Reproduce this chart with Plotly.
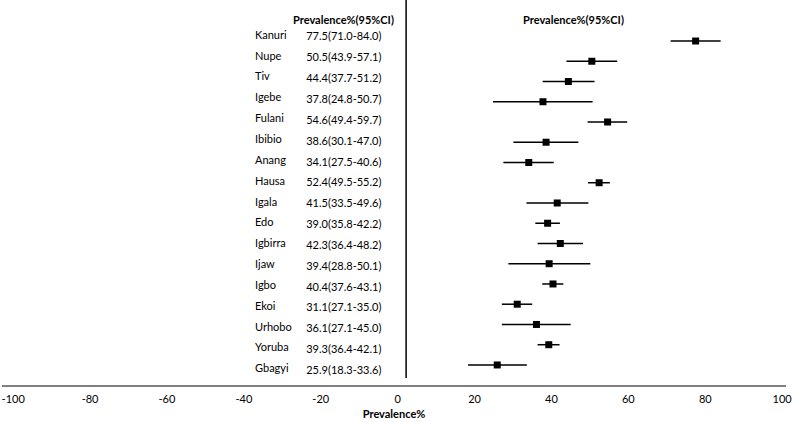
import plotly.graph_objects as go

groups = ["Kanuri", "Nupe", "Tiv", "Igebe", "Fulani", "Ibibio", "Anang", "Hausa", "Igala",
          "Edo", "Igbirra", "Ijaw", "Igbo", "Ekoi", "Urhobo", "Yoruba", "Gbagyi"]
prev = [77.5, 50.5, 44.4, 37.8, 54.6, 38.6, 34.1, 52.4, 41.5, 39.0, 42.3, 39.4, 40.4, 31.1, 36.1, 39.3, 25.9]
ci_low = [71.0, 43.9, 37.7, 24.8, 49.4, 30.1, 27.5, 49.5, 33.5, 35.8, 36.4, 28.8, 37.6, 27.1, 27.1, 36.4, 18.3]
ci_high = [84.0, 57.1, 51.2, 50.7, 59.7, 47.0, 40.6, 55.2, 49.6, 42.2, 48.2, 50.1, 43.1, 35.0, 45.0, 42.1, 33.6]
x_ticks = [-100, -80, -60, -40, -20, 0, 20, 40, 60, 80, 100]
x_tick_text = [str(v) for v in x_ticks]

labels = [f"{p:.1f}({l:.1f}-{h:.1f})" for p, l, h in zip(prev, ci_low, ci_high)]
rows = list(range(len(groups)))

FONT = "Lato"

fig = go.Figure()
fig.add_trace(go.Scatter(
    x=prev, y=rows, mode="markers",
    marker=dict(symbol="square", size=7, color="black"),
    error_x=dict(type="data", symmetric=False,
                 array=[h - p for p, h in zip(prev, ci_high)],
                 arrayminus=[p - l for p, l in zip(prev, ci_low)],
                 color="black", thickness=1.5, width=0),
    hoverinfo="skip", showlegend=False, cliponaxis=False))

# group names
fig.add_trace(go.Scatter(
    x=[-37.1] * len(groups), y=rows, yaxis="y2", mode="text", text=groups,
    textposition="middle right", textfont=dict(family=FONT, size=11, color="black"),
    hoverinfo="skip", showlegend=False))
# estimate labels
fig.add_trace(go.Scatter(
    x=[-14.0] * len(groups), y=[r + 0.08 for r in rows], yaxis="y2", mode="text", text=labels,
    textposition="middle center", textfont=dict(family=FONT, size=11, color="black"),
    hoverinfo="skip", showlegend=False))

fig.add_shape(type="line", xref="x", yref="paper", x0=2.2, x1=2.2, y0=0.018, y1=1,
              line=dict(color="black", width=1.5))

for xc in [-14.0, 45.7]:
    fig.add_annotation(x=xc, y=0.971, xref="x", yref="paper", text="<b>Prevalence%(95%CI)</b>",
                       showarrow=False, font=dict(family=FONT, size=11, color="black"))

fig.update_layout(
    width=795, height=422,
    margin=dict(l=2, r=9, t=0, b=37),
    paper_bgcolor="white", plot_bgcolor="white",
    font=dict(family=FONT, size=11, color="black"),
    xaxis=dict(range=[-102.9, 101.0], tickvals=x_ticks, ticktext=x_tick_text,
               showgrid=False, zeroline=False,
               showline=True, linecolor="#7f7f7f", linewidth=1.5, ticks="",
               ticklabelstandoff=3,
               tickfont=dict(family=FONT, size=11, color="black"),
               title=dict(text="<b>Prevalence%</b>", font=dict(family=FONT, size=11, color="black"),
                          standoff=6)),
    yaxis=dict(range=[16.99, -2.025], visible=False, showgrid=False, zeroline=False),
    yaxis2=dict(range=[16.74, -1.727], overlaying="y", visible=False, showgrid=False, zeroline=False),
)

fig.write_html("out.html", config={"displayModeBar": False},
               post_script="document.body.style.margin='0';")
